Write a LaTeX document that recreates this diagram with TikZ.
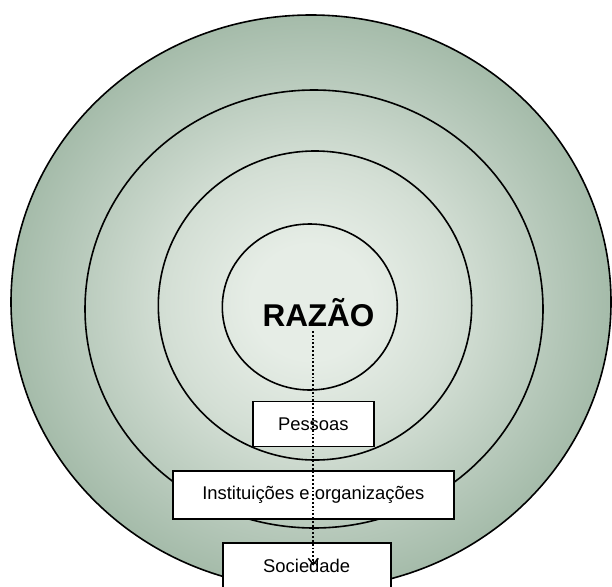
\documentclass[tikz,border=0pt]{standalone}
\usepackage{fontspec}
\setmainfont{Liberation Sans}
\usepackage{xcolor}
\usepackage{tikz}
\usetikzlibrary{arrows.meta}

\definecolor{ringA}{HTML}{E6EDE6}
\definecolor{ringB}{HTML}{D4DFD5}
\definecolor{ringC}{HTML}{B3C6B7}
\definecolor{ringD}{HTML}{93AE99}
\definecolor{ringE}{HTML}{86A48C}
\pgfdeclareradialshading{rings}{\pgfpoint{0bp}{0bp}}{%
  color(0bp)=(ringA); color(5bp)=(ringA); color(12bp)=(ringB);
  color(21bp)=(ringC); color(30bp)=(ringD); color(37bp)=(ringE); color(50bp)=(ringE)}

\begin{document}
\begin{tikzpicture}
      [ x=1pt, y=-1pt
      , ring/.style={black, line width=1.6pt}
      , level/.style={draw, black, fill=white, line width=1.6pt, inner sep=0pt,
                      minimum height=45pt, font=\fontsize{18.4}{20}\selectfont}
      , flow/.style={black, line width=1.8pt, dash pattern=on 1.8pt off 2pt}
      , tip/.style={black, line width=1.5pt, -{Straight Barb[length=6pt, width=10pt]}}
      ]
    \useasboundingbox (0,0) rectangle (612,586);

    \shade[shading=rings] (311,302) ellipse [x radius=300, y radius=287];
    \draw[ring] (311,302) ellipse [x radius=300, y radius=287];
    \draw[ring] (314,309) ellipse [x radius=229, y radius=219];
    \draw[ring] (315,305.5) ellipse [x radius=156.7, y radius=154.5];
    \draw[ring] (309.8,307) ellipse [x radius=87.5, y radius=83];

    \node (razao) [anchor=base, inner sep=0pt, font=\fontsize{31.5}{34}\selectfont\bfseries]
      at (318.5,326) {RAZÃO};

    \node (pessoas) [level, minimum width=121pt] at (313.3,424) {Pessoas};
    \node (inst) [level, minimum width=281pt, minimum height=48pt] at (313.3,495)
      {Instituições e organizações};
    \node (soc) [level, minimum width=168pt] at (306.7,565.5) {Sociedade};

    \coordinate (start) at ([yshift=-5pt]razao.base -| pessoas.center);
    \coordinate (end) at (soc.center -| pessoas.center);
    \draw[flow] (start) -- (end);
    \draw[tip] ([yshift=6pt]end) -- (end);

  \end{tikzpicture}
\end{document}
